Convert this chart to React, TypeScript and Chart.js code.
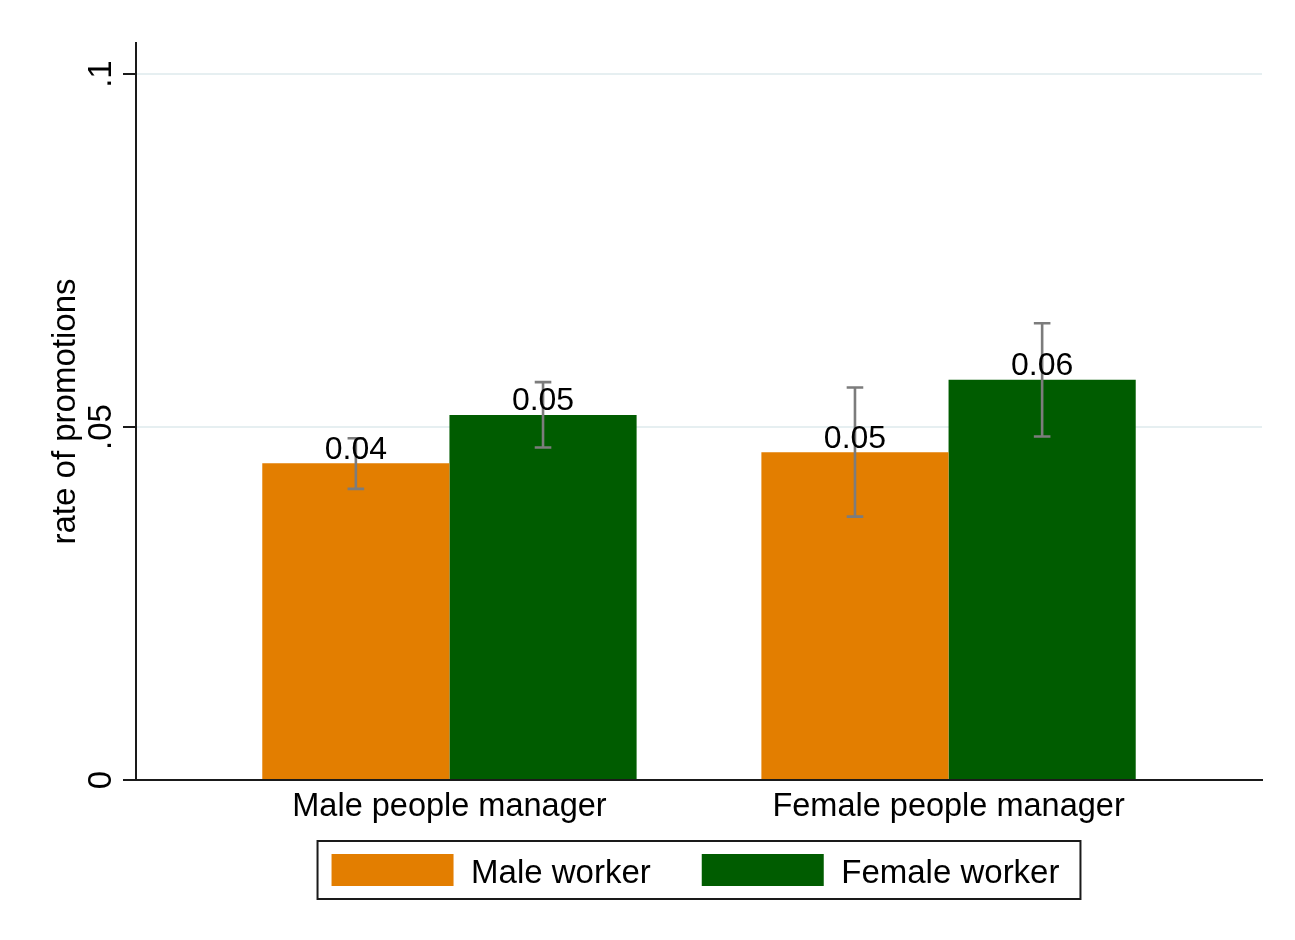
import React, { useEffect, useRef } from "react";
import { Chart, registerables } from "chart.js";

Chart.register(...registerables);

const categories = ["Male people manager", "Female people manager"];
const seriesNames = ["Male worker", "Female worker"];
const maleWorker = [0.04488, 0.04643];
const femaleWorker = [0.05172, 0.05668];
const maleLower = [0.04124, 0.03731];
const maleUpper = [0.04842, 0.05559];
const femaleLower = [0.04709, 0.04865];
const femaleUpper = [0.05636, 0.06471];
const yTicks = [0, 0.05, 0.1];
const yTickLabels = ["0", ".05", ".1"];
const yTitle = "rate of promotions";

const COLORS = ["#E37E00", "#005C00"];
const FONT = '"Liberation Sans", Arial, "Helvetica", sans-serif';

const lowers = [maleLower, femaleLower];
const uppers = [maleUpper, femaleUpper];

const overlayPlugin = {
  id: "overlay",
  afterDatasetsDraw(chart: any) {
    const ctx = chart.ctx;
    const yScale = chart.scales.y;
    ctx.save();
    chart.data.datasets.forEach((ds: any, di: number) => {
      const meta = chart.getDatasetMeta(di);
      meta.data.forEach((bar: any, i: number) => {
        const x = bar.x;
        const yl = yScale.getPixelForValue(lowers[di][i]);
        const yu = yScale.getPixelForValue(uppers[di][i]);
        ctx.strokeStyle = "#7c7c7c";
        ctx.lineWidth = 2.6;
        ctx.beginPath();
        ctx.moveTo(x, yl);
        ctx.lineTo(x, yu);
        ctx.moveTo(x - 8.3, yl);
        ctx.lineTo(x + 8.3, yl);
        ctx.moveTo(x - 8.3, yu);
        ctx.lineTo(x + 8.3, yu);
        ctx.stroke();
      });
    });
    ctx.fillStyle = "#000";
    ctx.font = `32px ${FONT}`;
    ctx.textAlign = "center";
    ctx.textBaseline = "alphabetic";
    chart.data.datasets.forEach((ds: any, di: number) => {
      const meta = chart.getDatasetMeta(di);
      meta.data.forEach((bar: any, i: number) => {
        const v = ds.data[i].y;
        ctx.fillText(v.toFixed(2), bar.x, bar.y - 4.5);
      });
    });
    ctx.restore();
  },
  afterDraw(chart: any) {
    const ctx = chart.ctx;
    const yScale = chart.scales.y;
    const area = chart.chartArea;
    ctx.save();
    ctx.fillStyle = "#000";
    ctx.font = `33px ${FONT}`;
    ctx.textAlign = "center";
    ctx.textBaseline = "alphabetic";
    yTicks.forEach((v, i) => {
      const y = yScale.getPixelForValue(v);
      ctx.save();
      ctx.translate(111, y);
      ctx.rotate(-Math.PI / 2);
      ctx.fillText(yTickLabels[i], 0, 0);
      ctx.restore();
    });
    ctx.font = `33px ${FONT}`;
    ctx.textAlign = "left";
    const names = chart.data.datasets.map((d: any) => d.label);
    const widths = names.map((n: string) => ctx.measureText(n).width);
    const padL = 14, padR = 21, sw = 122, sh = 32, gap = 17.5, itemGap = 51;
    const total = padL + sw + gap + widths[0] + itemGap + sw + gap + widths[1] + padR;
    const cx = (area.left + area.right) / 2;
    const left = cx - total / 2;
    const top = 841, bottom = 899;
    ctx.strokeStyle = "#1a1a1a";
    ctx.lineWidth = 2;
    ctx.strokeRect(left, top, total, bottom - top);
    let x = left + padL;
    names.forEach((n: string, i: number) => {
      ctx.fillStyle = chart.data.datasets[i].backgroundColor;
      ctx.fillRect(x, 854, sw, sh);
      x += sw + gap;
      ctx.fillStyle = "#000";
      ctx.fillText(n, x, 883);
      x += widths[i] + itemGap;
    });
    ctx.restore();
  },
};

export default function App() {
  const ref = useRef<HTMLCanvasElement>(null);
  useEffect(() => {
    document.body.style.margin = "0";
    const canvas = ref.current;
    if (!canvas) return;
    const chart = new Chart(canvas, {
      type: "bar",
      data: {
        datasets: [
          {
            label: seriesNames[0],
            data: maleWorker.map((v, i) => ({ x: i, y: v })),
            backgroundColor: COLORS[0],
            borderWidth: 0,
            categoryPercentage: 0.75,
            barPercentage: 1.0,
          },
          {
            label: seriesNames[1],
            data: femaleWorker.map((v, i) => ({ x: i, y: v })),
            backgroundColor: COLORS[1],
            borderWidth: 0,
            categoryPercentage: 0.75,
            barPercentage: 1.0,
          },
        ],
      },
      options: {
        responsive: false,
        animation: false,
        events: [],
        layout: { padding: { left: 0, right: 33, top: 43, bottom: 0 } },
        plugins: {
          legend: { display: false },
          tooltip: { enabled: false },
          title: { display: false },
        },
        scales: {
          x: {
            type: "linear",
            min: -0.628,
            max: 1.628,
            offset: false,
            grid: { display: false, drawTicks: false },
            border: { display: true, color: "#1a1a1a", width: 2 },
            afterBuildTicks: (s: any) => {
              s.ticks = categories.map((_, i) => ({ value: i }));
            },
            afterFit: (s: any) => {
              s.height = 160;
            },
            ticks: {
              autoSkip: false,
              maxRotation: 0,
              minRotation: 0,
              padding: 8,
              color: "#000",
              font: { family: FONT, size: 32.5 },
              callback: (v: any) => categories[Math.round(v)] ?? "",
            },
          },
          y: {
            type: "linear",
            min: 0,
            max: 0.1044,
            grid: {
              display: true,
              drawTicks: true,
              tickLength: 13,
              lineWidth: 2,
              tickWidth: 2,
              tickColor: "#1a1a1a",
              color: (c: any) => (c.tick && c.tick.value === 0 ? "rgba(0,0,0,0)" : "#E6EFF1"),
            },
            border: { display: true, color: "#1a1a1a", width: 2 },
            afterBuildTicks: (s: any) => {
              s.ticks = yTicks.map((v) => ({ value: v }));
            },
            afterFit: (s: any) => {
              s.width = 136;
            },
            ticks: { display: false },
            title: {
              display: true,
              text: yTitle,
              color: "#000",
              font: { family: FONT, size: 33 },
              padding: { top: 46, bottom: 0 },
            },
          },
        },
      },
      plugins: [overlayPlugin],
    } as any);
    return () => chart.destroy();
  }, []);
  return (
    <div style={{ width: 1295, height: 940, background: "#fff" }}>
      <canvas ref={ref} width={1295} height={940} style={{ display: "block" }} />
    </div>
  );
}
